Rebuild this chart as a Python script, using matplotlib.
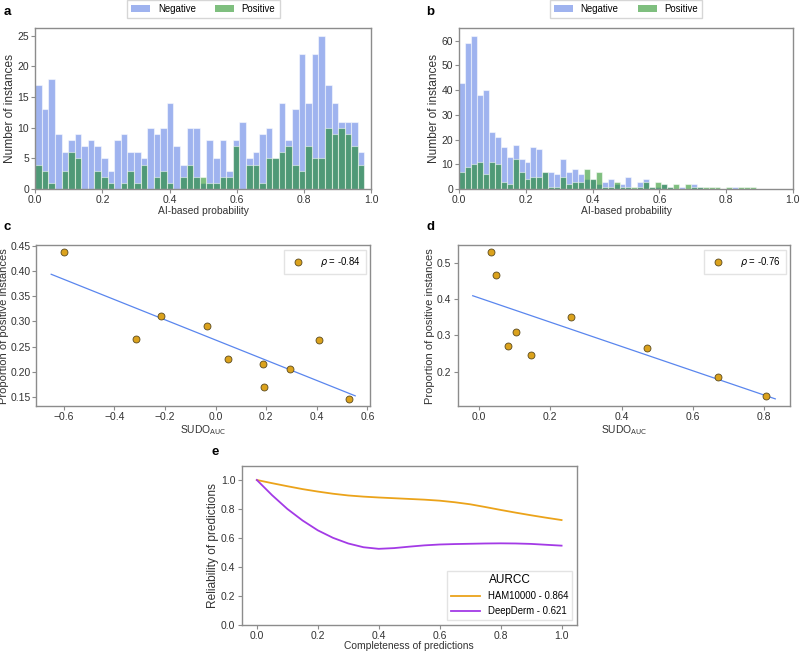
import numpy as np
import matplotlib
matplotlib.use('Agg')
import matplotlib.pyplot as plt
from matplotlib.patches import Patch

plt.rcParams['font.family'] = ['Liberation Sans', 'DejaVu Sans']
plt.rcParams['axes.edgecolor'] = '#8c8c8c'
plt.rcParams['xtick.color'] = '#8c8c8c'
plt.rcParams['ytick.color'] = '#8c8c8c'
plt.rcParams['xtick.labelcolor'] = '#333333'
plt.rcParams['ytick.labelcolor'] = '#333333'
plt.rcParams['axes.labelcolor'] = '#333333'

# %%
# Histogram counts, panel a (HAM10000) - 50 bins between 0 and 0.98
a_neg = [17, 13, 18, 9, 6, 8, 9, 7, 8, 7,
         5, 3, 8, 9, 6, 6, 5, 10, 9, 10,
         14, 7, 4, 10, 10, 1, 8, 5, 8, 3,
         8, 11, 5, 6, 9, 10, 5, 14, 8, 13,
         22, 14, 22, 25, 17, 14, 11, 11, 11, 6]
a_pos = [4, 3, 1, 0, 3, 6, 5, 0, 0, 3,
         2, 1, 0, 1, 3, 1, 4, 0, 2, 3,
         1, 0, 2, 4, 2, 2, 1, 1, 2, 2,
         7, 0, 4, 4, 1, 5, 5, 6, 7, 4,
         3, 7, 5, 5, 10, 9, 10, 9, 7, 4]
a_range = (0.0, 0.98)

# Histogram counts, panel b (DeepDerm) - 50 bins between 0 and 0.89
b_neg = [43, 59, 62, 38, 40, 23, 21, 17, 13, 18,
         12, 11, 17, 16, 7, 7, 6, 12, 7, 8,
         6, 4, 4, 2, 3, 4, 2, 2, 5, 0,
         3, 4, 1, 1, 2, 1, 0, 1, 0, 2,
         1, 0, 0, 0, 0, 0, 1, 0, 0, 0]
b_pos = [7, 9, 10, 11, 6, 11, 10, 3, 2, 12,
         7, 4, 5, 5, 7, 1, 1, 5, 2, 3,
         3, 8, 4, 7, 1, 1, 3, 1, 1, 1,
         1, 3, 1, 3, 2, 1, 2, 0, 2, 1,
         1, 1, 1, 1, 0, 1, 0, 1, 1, 1]
b_range = (0.0, 0.89)

# SUDO vs proportion of positives
c_sudo = [-0.60, -0.316, -0.215, -0.033, 0.051, 0.187, 0.19, 0.295, 0.407, 0.527]
c_prop = [0.437, 0.266, 0.311, 0.291, 0.225, 0.216, 0.170, 0.205, 0.264, 0.146]
c_rho = -0.84

d_sudo = [0.032, 0.047, 0.080, 0.103, 0.147, 0.259, 0.471, 0.672, 0.807]
d_prop = [0.529, 0.468, 0.270, 0.308, 0.245, 0.350, 0.266, 0.185, 0.133]
d_rho = -0.76

# Reliability-completeness curves
completeness = [0.0, 0.05, 0.1, 0.15, 0.2, 0.25, 0.3, 0.35, 0.4, 0.45, 0.5,
                0.55, 0.6, 0.65, 0.7, 0.75, 0.8, 0.85, 0.9, 0.95, 1.0]
ham_rel = [1.0, 0.978, 0.957, 0.937, 0.920, 0.905, 0.893, 0.885, 0.879, 0.874,
           0.869, 0.864, 0.857, 0.846, 0.832, 0.813, 0.793, 0.774, 0.756,
           0.739, 0.723]
derm_rel = [1.0, 0.895, 0.800, 0.720, 0.652, 0.600, 0.561, 0.535, 0.524,
            0.529, 0.539, 0.548, 0.554, 0.557, 0.559, 0.561, 0.562, 0.561,
            0.558, 0.552, 0.546]
curve_labels = ['HAM10000 - 0.864', 'DeepDerm - 0.621']

neg_col = 'royalblue'
pos_col = 'green'
dot_col = '#dba21c'
fit_col = '#5a86ee'

TICK = 7.5
XLAB = 7.4
YLAB = 8.6
LEG = 6.9

fig = plt.figure(figsize=(8, 6.52), dpi=100)
ax_a = fig.add_axes([0.044, 0.710, 0.420, 0.247])
ax_b = fig.add_axes([0.574, 0.710, 0.417, 0.247])
ax_c = fig.add_axes([0.045, 0.377, 0.418, 0.247])
ax_d = fig.add_axes([0.572, 0.377, 0.416, 0.247])
ax_e = fig.add_axes([0.302, 0.042, 0.419, 0.244])


def style(ax):
    ax.tick_params(labelsize=TICK, length=3, width=0.8, pad=1.5)
    for s in ax.spines.values():
        s.set_linewidth(1.0)


# %%
# Histograms
for ax, neg, pos, rng in [(ax_a, a_neg, a_pos, a_range),
                          (ax_b, b_neg, b_pos, b_range)]:
    edges = np.linspace(rng[0], rng[1], len(neg) + 1)
    mids = edges[:-1]
    ax.hist(mids, bins=edges, weights=neg, color=neg_col, alpha=0.5,
            edgecolor='white', linewidth=0.8)
    ax.hist(mids, bins=edges, weights=pos, color=pos_col, alpha=0.5,
            edgecolor='white', linewidth=0.8)
    ax.set_xlim(0, 1)
    ax.set_xticks(np.arange(0, 1.01, 0.2))
    ax.set_xlabel('AI-based probability', fontsize=XLAB, labelpad=0.5)
    ax.set_ylabel('Number of instances', fontsize=YLAB, labelpad=1)
    handles = [Patch(facecolor=neg_col, alpha=0.5), Patch(facecolor=pos_col, alpha=0.5)]
    ax.legend(handles, ['Negative', 'Positive'], loc='lower center',
              bbox_to_anchor=(0.5, 1.03), ncol=2, fontsize=LEG, frameon=True,
              handlelength=2.0, columnspacing=2.0, handletextpad=0.8,
              borderpad=0.45, edgecolor='#cccccc', fancybox=False)
    style(ax)
ax_a.set_yticks(range(0, 26, 5))

# %%
# Scatter with linear fit
for ax, sx, sy, rho in [(ax_c, c_sudo, c_prop, c_rho),
                        (ax_d, d_sudo, d_prop, d_rho)]:
    sx = np.array(sx)
    sy = np.array(sy)
    slope, icpt = np.polyfit(sx, sy, 1)
    xl = np.array([sx.min() - 0.05, sx.max() + 0.025])
    ax.plot(xl, slope * xl + icpt, color=fit_col, linewidth=0.9)
    ax.scatter(sx, sy, s=25, color=dot_col, edgecolor='#5a4a20',
               linewidth=0.6, zorder=3, label=r'$\rho$ = %.2f' % rho)
    ax.set_xlabel(r'SUDO$_{\mathrm{AUC}}$', fontsize=XLAB, labelpad=0.5)
    ax.set_ylabel('Proportion of positive instances', fontsize=8.0, labelpad=1)
    ax.legend(loc='upper right', fontsize=LEG, edgecolor='#dddddd',
              fancybox=False, borderpad=0.5, handletextpad=1.3)
    style(ax)
ax_c.set_xticks(np.arange(-0.6, 0.61, 0.2))
ax_c.set_yticks(np.arange(0.15, 0.451, 0.05))
ax_c.tick_params(axis='y', pad=1)
ax_d.set_xticks(np.arange(0, 0.81, 0.2))
ax_d.set_yticks([0.2, 0.3, 0.4, 0.5])

# %%
# Reliability-completeness curves
ax_e.plot(completeness, ham_rel, color='#eba31a', linewidth=1.3, label=curve_labels[0])
ax_e.plot(completeness, derm_rel, color='#a33ae6', linewidth=1.3, label=curve_labels[1])
ax_e.set_ylim(0, 1.1)
ax_e.set_yticks(np.arange(0, 1.01, 0.2))
ax_e.set_xticks(np.arange(0, 1.01, 0.2))
ax_e.set_xlabel('Completeness of predictions', fontsize=XLAB, labelpad=0)
ax_e.set_ylabel('Reliability of predictions', fontsize=YLAB, labelpad=1)
leg = ax_e.legend(title='AURCC', loc='lower right', fontsize=LEG,
                  title_fontsize=8.5, edgecolor='#dddddd', fancybox=False,
                  handlelength=3.0)
style(ax_e)

# panel letters
for txt, x, y in [('a', 0.005, 0.981), ('b', 0.533, 0.981), ('c', 0.005, 0.652),
                  ('d', 0.533, 0.652), ('e', 0.264, 0.307)]:
    fig.text(x, y, txt, fontsize=9.5, fontweight='bold', va='center')

fig.savefig('out.png', dpi=100)
